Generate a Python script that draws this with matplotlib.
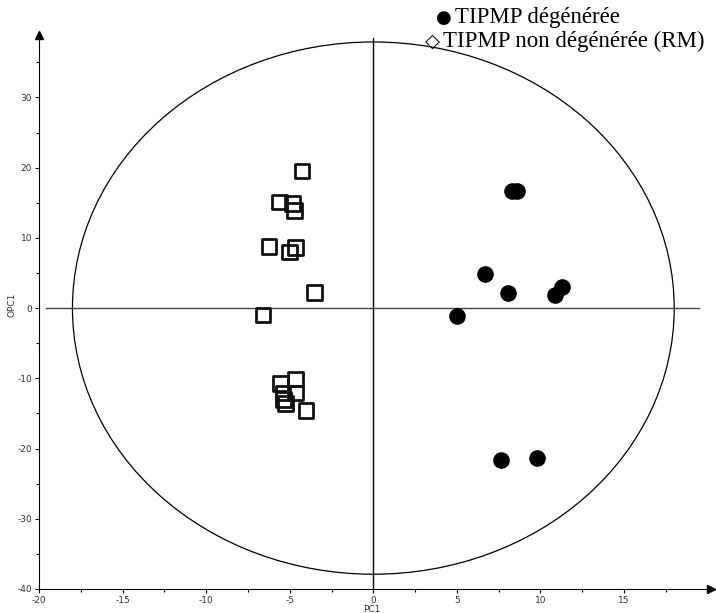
import numpy as np
import matplotlib.pyplot as plt
from matplotlib.patches import Ellipse

plt.rcParams['axes.unicode_minus'] = False

# scores
deg_pc1 = [8.27, 8.6, 6.7, 8.06, 10.87, 11.26, 5.0, 7.62, 9.77]
deg_opc1 = [16.7, 16.7, 4.84, 2.18, 1.8, 3.0, -1.1, -21.6, -21.3]

rm_pc1 = [-4.26, -5.63, -4.82, -4.70, -6.25, -4.64, -5.01, -3.52, -6.61,
          -5.55, -4.66, -4.66, -5.41, -5.36, -5.25, -4.04]
rm_opc1 = [19.5, 15.1, 14.9, 13.9, 8.8, 8.6, 8.0, 2.2, -1.0,
           -10.7, -10.1, -12.1, -12.1, -13.0, -13.6, -14.6]

legend_symbols = ['\u25cf', '\u25c7']
legend_labels = ['TIPMP dégénérée', 'TIPMP non dégénérée (RM)']

fig = plt.figure(figsize=(7.16, 6.13), dpi=100)
ax = fig.add_axes([0.0545, 0.0392, 0.9455, 0.9038])

# Hotelling ellipse + cross
ax.add_patch(Ellipse((0, 0), 36, 75.8, fill=False, edgecolor='black', lw=0.9))
ax.plot([-19.6, 19.5], [0, 0], color='#444444', lw=1)
ax.plot([0, 0], [-40, 38.5], color='black', lw=1)

ax.scatter(rm_pc1, rm_opc1, marker='s', s=110, facecolors='none',
           edgecolors='#111111', linewidths=2, zorder=3)
ax.scatter(deg_pc1, deg_opc1, marker='o', s=120, color='black', zorder=4)

ax.set_xlim(-20, 20.5)
ax.set_ylim(-40, 38.9)
ax.spines['top'].set_visible(False)
ax.spines['right'].set_visible(False)
ax.set_xticks(np.arange(-20, 16, 5))
ax.set_xticks(np.arange(-20, 20, 2.5), minor=True)
ax.set_yticks(np.arange(-40, 31, 10))
ax.set_yticks(np.arange(-40, 36, 5), minor=True)
ax.tick_params(labelsize=6.5, labelcolor='#333333', length=3, width=0.8, pad=2)
ax.tick_params(which='minor', length=2, width=0.8)
ax.plot(0.992, 0, '>k', ms=6, transform=ax.transAxes, clip_on=False)
ax.plot(0, 1, '^k', ms=6, transform=ax.transAxes, clip_on=False)

ax.set_xlabel('PC1', fontsize=6.5, color='#333333')
ax.xaxis.set_label_coords(0.492, -0.029)
ax.set_ylabel('OPC1', fontsize=6.5, color='#333333')
ax.yaxis.set_label_coords(-0.033, 0.512)

serif = ['Liberation Serif', 'DejaVu Serif']
fig.text(444 / 716, 1 - 18 / 613, legend_symbols[0], fontsize=13,
         family=['DejaVu Sans'], ha='center', va='center')
fig.text(455 / 716, 1 - 17 / 613, legend_labels[0], fontsize=16.5,
         family=serif, va='center')
fig.text(432 / 716, 1 - 41 / 613, legend_symbols[1], fontsize=14,
         family=['DejaVu Sans'], ha='center', va='center')
fig.text(443 / 716, 1 - 41 / 613, legend_labels[1], fontsize=16.5,
         family=serif, va='center')

fig.savefig('out.png', dpi=100)
